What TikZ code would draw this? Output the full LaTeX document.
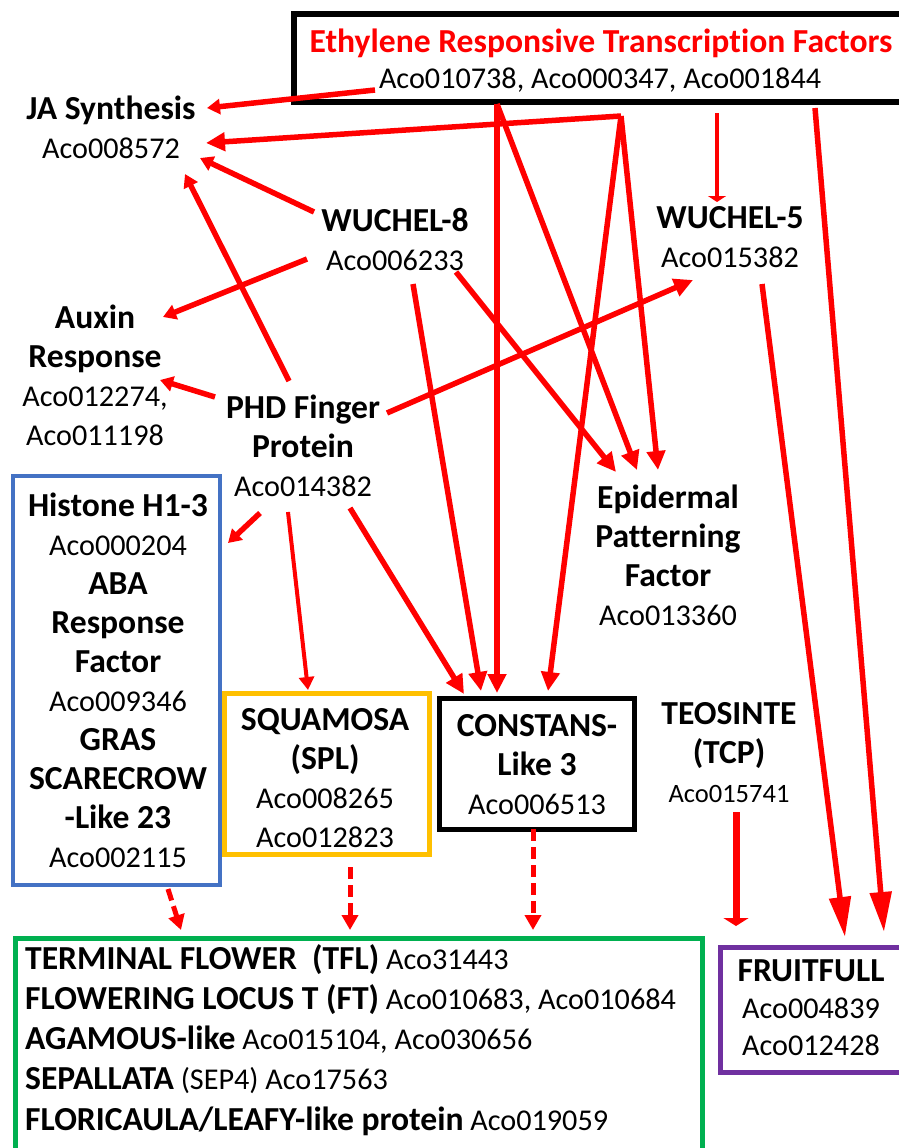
\documentclass[tikz,border=0pt]{standalone}
\usepackage{fontspec}
\setmainfont{Carlito}[Ligatures=NoCommon]
\usetikzlibrary{arrows.meta}
\definecolor{ared}{HTML}{FF0000}
\definecolor{hblue}{HTML}{4472C4}
\definecolor{hgold}{HTML}{FFC000}
\definecolor{hgreen}{HTML}{00B050}
\definecolor{hpurple}{HTML}{7030A0}
\newcommand{\hb}[1]{{\fontsize{33.6}{39}\selectfont\bfseries #1}}
\tikzset{
  txt/.style={align=center, inner sep=0pt, font=\fontsize{30.2}{39}\selectfont},
  boxs/.style={inner sep=0pt, fill=none},
  arr/.style={draw=ared, line width=5.5pt, -{Triangle[length=19pt,width=18pt]}},
  arrsm/.style={draw=ared, line width=5.5pt, -{Triangle[length=13pt,width=15pt]}},
  arrbig/.style={draw=ared, line width=5.5pt, -{Triangle[length=40pt,width=21pt]}},
  arrthin/.style={draw=ared, line width=3.5pt, -{Triangle[length=6pt,width=18pt]}},
  arrteo/.style={draw=ared, line width=7pt, -{Triangle[length=8pt,width=25pt]}},
  arrdash/.style={draw=ared, line width=5pt, dash pattern=on 12pt off 6pt, -{Triangle[length=15pt,width=16pt]}}
}
\begin{document}
\begin{tikzpicture}[x=1pt,y=-1pt]
\useasboundingbox (0,0) rectangle (899,1148);
\clip (0,0) rectangle (899,1148);

% boxes
\node[boxs, draw=black, line width=6pt, minimum width=621pt, minimum height=87.5pt] (ertbox) at (604.5,58.25) {};
\node[boxs, draw=hblue, line width=4.5pt, minimum width=207pt, minimum height=409pt] (hisbox) at (116.5,680.5) {};
\node[boxs, draw=hgold, line width=5pt, minimum width=205pt, minimum height=161pt] (squbox) at (326.5,773.5) {};
\node[boxs, draw=black, line width=5pt, minimum width=195pt, minimum height=131pt] (conbox) at (536.5,763.5) {};
\node[boxs, draw=hgreen, line width=5pt, minimum width=687pt, minimum height=240pt, anchor=north west] (grnbox) at (12.5,935.5) {};
\node[boxs, draw=hpurple, line width=5pt, minimum width=200pt, minimum height=125.5pt, anchor=north west] (frubox) at (717.5,944.5) {};

% texts
\node[txt, text=ared] (ert) at (601,43) {\hb{Ethylene Responsive Transcrip\kern0pt tion Factors}};
\node[txt] (ertids) at (600,80) {Aco010738, Aco000347, Aco001844};
\node[txt] (ja) at (111,127) {\hb{JA Synthesis}\\Aco008572};
\node[txt] (wu8) at (395,240) {\hb{WUCHEL-8}\\Aco006233};
\node[txt] (wu5) at (730,237) {\hb{WUCHEL-5}\\Aco015382};
\node[txt] (aux) at (95,375) {\hb{Auxin}\\\hb{Response}\\Aco012274,\\Aco011198};
\node[txt] (phd) at (303,446) {\hb{PHD Finger}\\\hb{Protein}\\Aco014382};
\node[txt] (epf) at (668,555) {\hb{Epidermal}\\\hb{Patterning}\\\hb{Factor}\\Aco013360};
\node[txt] (teo) at (729,753) {\hb{TEOSINTE}\\\hb{(TCP)}\\{\fontsize{26.5}{39}\selectfont Aco015741}};
\node[txt] (his) at (118,680) {\hb{Histone H1-3}\\Aco000204\\\hb{ABA}\\\hb{Response}\\\hb{Factor}\\Aco009346\\\hb{GRAS}\\\hb{SCARECROW}\\\hb{-Like 23}\\Aco002115};
\node[txt] (squ) at (325,778) {\hb{SQUAMOSA}\\\hb{(SPL)}\\Aco008265\\Aco012823};
\node[txt] (con) at (537,765) {\hb{CONSTANS-}\\\hb{Like 3}\\Aco006513};
\node[txt, font=\fontsize{30.2}{37}\selectfont] (fru) at (811,1008) {\hb{FRUITFULL}\\Aco004839\\Aco012428};
\node[txt, align=left, anchor=north west, font=\fontsize{30.2}{40.25}\selectfont] (flw) at (25,944)
  {\hb{TERMINAL FLOWER\ \ (TFL)} Aco31443\\
   \hb{FLOWERING LOCUS T (FT)} Aco010683, Aco010684\\
   \hb{AGAMOUS-like} Aco015104, Aco030656\\
   \hb{SEPALLATA} (SEP4) Aco17563\\
   \hb{FLORICAULA/LEAFY-like protein} Aco019059};

% connector end points
\coordinate (ertA) at (375,90);
\coordinate (ertB) at (621,116);
\coordinate (ertC) at (497,104);
\coordinate (ertD) at (717,113);
\coordinate (ertE) at (815,108);
\coordinate (jaA) at (207,108);
\coordinate (jaB) at (206,143);
\coordinate (jaC) at (200,158);
\coordinate (jaD) at (185,174);
\coordinate (wu8A) at (314,212);
\coordinate (wu8B) at (307,259);
\coordinate (wu8C) at (413,284);
\coordinate (wu8D) at (456,272);
\coordinate (wu5A) at (717,202);
\coordinate (wu5B) at (693,280);
\coordinate (wu5C) at (762,284);
\coordinate (auxA) at (163,317);
\coordinate (auxB) at (160,380);
\coordinate (phdA) at (289,381);
\coordinate (phdB) at (215,397);
\coordinate (phdC) at (387,413);
\coordinate (phdD) at (260,513);
\coordinate (phdE) at (288,512);
\coordinate (phdF) at (350,508);
\coordinate (hisA) at (228,543);
\coordinate (hisB) at (168,889);
\coordinate (squA) at (308,690);
\coordinate (squB) at (350,867);
\coordinate (conA) at (464,694);
\coordinate (conB) at (481,691);
\coordinate (conC) at (497,693);
\coordinate (conD) at (548,691);
\coordinate (conE) at (533,829);
\coordinate (epfA) at (616,472);
\coordinate (epfB) at (637,470);
\coordinate (epfC) at (658,470);
\coordinate (teoA) at (736,812);
\coordinate (teoB) at (736,926);
\coordinate (fruA) at (845,937);
\coordinate (fruB) at (884,932);
\coordinate (grnA) at (181,930);
\coordinate (grnB) at (350,930);
\coordinate (grnC) at (533,930);

% connectors
\draw[arrsm] (ertA) -- (jaA);
\draw[arr] (ertB) -- (jaB);
\draw[arr] (ertB) -- (conD);
\draw[arr] (ertB) -- (epfC);
\draw[arr, line width=6pt] (ertC) -- (conC);
\draw[arr] (ertC) -- (epfB);
\draw[arrthin] (ertD) -- (wu5A);
\draw[arrbig] (ertE) -- (fruB);
\draw[arrbig] (wu5C) -- (fruA);
\draw[arrsm] (wu8A) -- (jaC);
\draw[arrsm] (wu8B) -- (auxA);
\draw[arr] (wu8C) -- (conB);
\draw[arr] (wu8D) -- (epfA);
\draw[arrsm] (phdA) -- (jaD);
\draw[arrsm] (phdB) -- (auxB);
\draw[arr] (phdC) -- (wu5B);
\draw[arrsm] (phdD) -- (hisA);
\draw[arrsm, line width=4pt] (phdE) -- (squA);
\draw[arr] (phdF) -- (conA);
\draw[arrteo] (teoA) -- (teoB);
\draw[arrdash] (hisB) -- (grnA);
\draw[arrdash] (squB) -- (grnB);
\draw[arrdash] (conE) -- (grnC);
\end{tikzpicture}
\end{document}
